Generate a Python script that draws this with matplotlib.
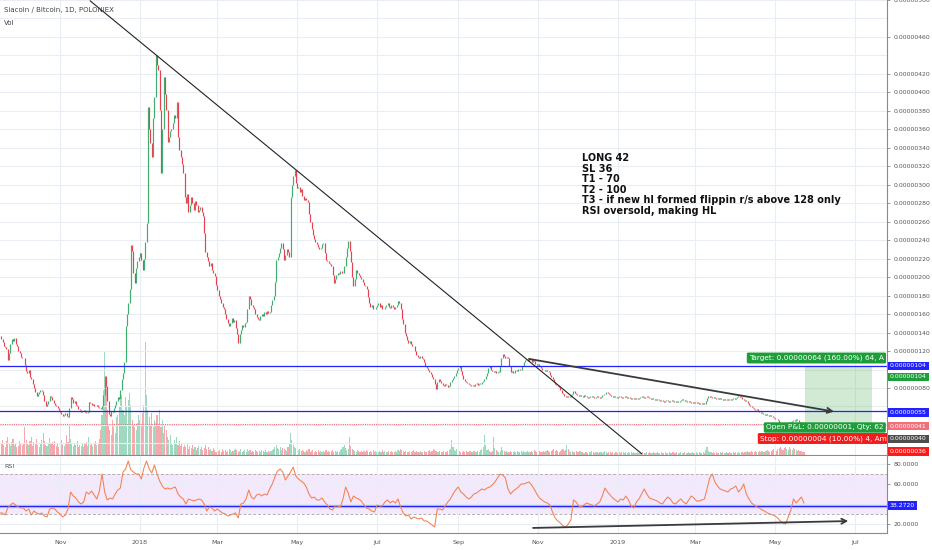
import numpy as np
import pandas as pd
import matplotlib
matplotlib.use('Agg')
import matplotlib.pyplot as plt
import matplotlib.dates as mdates
from matplotlib.ticker import FixedLocator, FuncFormatter

# daily closes in satoshi (1e-8 BTC), one per day from start_day
start_day = '2017-09-17'
first_open = 136
closes = [
    133, 130, 126, 124, 122, 110, 118, 128, 133, 131, 134, 128, 125, 120, 118, 114, 112, 113, 105, 98,
    96, 99, 92, 90, 84, 80, 76, 71, 73, 76, 78, 77, 72, 66, 60, 63, 66, 71, 70, 67,
    64, 62, 60, 58, 56, 54, 52, 50, 51, 53, 50, 49, 58, 70, 68, 64, 66, 62, 60, 57,
    56, 54, 55, 56, 54, 53, 54, 65, 64, 62, 63, 60, 61, 62, 59, 58, 57, 60, 72, 93,
    82, 66, 52, 50, 55, 54, 58, 62, 66, 70, 68, 78, 90, 96, 108, 147, 160, 172, 187, 235,
    228, 205, 194, 210, 218, 222, 226, 219, 208, 220, 238, 259, 384, 360, 345, 330, 372, 395, 440, 430,
    424, 381, 313, 360, 417, 398, 381, 346, 352, 358, 360, 367, 375, 372, 390, 352, 338, 330, 322, 313,
    287, 280, 290, 270, 278, 287, 280, 273, 282, 278, 270, 273, 276, 270, 266, 248, 227, 222, 218, 212,
    215, 208, 204, 201, 192, 186, 180, 176, 172, 168, 165, 160, 155, 150, 147, 150, 156, 152, 154, 145,
    138, 129, 138, 143, 148, 146, 150, 151, 165, 180, 176, 170, 168, 165, 160, 157, 155, 154, 158, 160,
    158, 162, 160, 163, 161, 162, 170, 175, 180, 195, 219, 222, 226, 232, 237, 230, 219, 224, 230, 227,
    222, 287, 300, 310, 316, 302, 296, 298, 292, 295, 288, 284, 286, 283, 281, 268, 260, 252, 246, 241,
    238, 236, 233, 230, 232, 236, 237, 226, 219, 218, 215, 214, 212, 202, 194, 198, 202, 205, 203, 207,
    204, 205, 212, 222, 232, 239, 228, 216, 200, 190, 198, 208, 204, 202, 200, 198, 195, 192, 190, 187,
    178, 172, 168, 170, 166, 165, 168, 170, 172, 168, 170, 166, 165, 168, 170, 172, 168, 167, 170, 168,
    165, 168, 170, 174, 172, 165, 155, 149, 140, 136, 132, 129, 131, 128, 126, 125, 120, 116, 114, 112,
    115, 113, 111, 108, 104, 102, 99, 97, 95, 92, 90, 84, 79, 86, 90, 88, 85, 83, 82, 84,
    83, 81, 82, 86, 89, 91, 93, 96, 100, 102, 104, 98, 94, 90, 88, 86, 85, 84, 83, 82,
    83, 82, 84, 85, 83, 84, 84, 86, 88, 90, 93, 96, 102, 104, 100, 98, 97, 98, 96, 97,
    97, 104, 112, 117, 115, 113, 114, 113, 104, 97, 98, 96, 99, 100, 98, 101, 99, 100, 104, 108,
    110, 111, 109, 113, 111, 108, 110, 109, 106, 105, 106, 104, 102, 100, 99, 98, 99, 98, 97, 94,
    92, 90, 86, 84, 83, 82, 81, 78, 75, 73, 71, 70, 71, 70, 70, 72, 74, 77, 75, 73,
    72, 71, 72, 71, 70, 72, 71, 70, 69, 70, 70, 71, 70, 69, 70, 71, 70, 69, 70, 72,
    73, 74, 76, 75, 73, 72, 71, 70, 71, 70, 69, 70, 71, 70, 69, 70, 71, 70, 69, 70,
    69, 68, 69, 68, 69, 68, 68, 69, 70, 71, 70, 69, 70, 71, 70, 69, 68, 69, 68, 67,
    68, 67, 67, 66, 67, 66, 65, 66, 67, 66, 65, 66, 67, 66, 65, 66, 65, 65, 66, 67,
    68, 67, 66, 66, 65, 66, 65, 64, 65, 64, 64, 65, 64, 63, 64, 63, 64, 63, 66, 69,
    71, 70, 70, 69, 70, 69, 68, 69, 68, 69, 68, 67, 68, 67, 68, 67, 68, 67, 68, 69,
    68, 69, 70, 71, 70, 70, 68, 67, 66, 66, 64, 62, 60, 59, 58, 57, 56, 57, 55, 54,
    53, 53, 52, 51, 52, 51, 50, 51, 50, 49, 48, 47, 46, 45, 43, 41, 39, 38, 37, 39,
    40, 42, 43, 42, 44, 45, 44, 46, 45, 43, 42, 43, 42, 41,
]

volume = [
    12, 15, 10, 8, 14, 18, 11, 9, 13, 16, 10, 12, 8, 9, 14, 11, 10, 12, 28, 15,
    12, 10, 14, 18, 9, 13, 11, 16, 10, 8, 12, 15, 22, 14, 10, 9, 12, 17, 11, 13,
    10, 14, 9, 12, 8, 11, 15, 10, 9, 12, 20, 13, 30, 16, 11, 9, 12, 10, 14, 8,
    10, 9, 12, 8, 11, 13, 9, 18, 10, 12, 9, 11, 14, 10, 12, 16, 25, 40, 65, 103,
    78, 45, 30, 25, 20, 35, 28, 22, 38, 40, 48, 55, 60, 45, 40, 58, 48, 55, 62, 50,
    35, 30, 28, 25, 32, 40, 35, 30, 42, 50, 113, 60, 45, 38, 30, 42, 28, 35, 32, 40,
    30, 45, 28, 35, 22, 30, 25, 18, 15, 20, 12, 10, 15, 12, 18, 10, 14, 9, 12, 8,
    10, 8, 12, 6, 9, 7, 10, 6, 8, 5, 7, 9, 6, 8, 5, 7, 10, 6, 8, 5,
    6, 4, 7, 5, 3, 6, 4, 5, 3, 6, 4, 5, 3, 4, 6, 5, 3, 4, 5, 6,
    5, 3, 4, 6, 3, 4, 5, 3, 6, 4, 5, 3, 4, 3, 5, 4, 3, 4, 3, 5,
    4, 3, 5, 3, 4, 3, 4, 5, 6, 8, 10, 7, 6, 8, 5, 7, 6, 5, 4, 8,
    12, 22, 15, 10, 8, 7, 6, 5, 6, 4, 5, 4, 3, 5, 4, 6, 3, 4, 5, 3,
    4, 3, 5, 3, 4, 3, 4, 3, 5, 3, 4, 3, 4, 5, 3, 4, 3, 4, 3, 5,
    6, 8, 10, 7, 5, 6, 18, 9, 6, 5, 4, 3, 5, 4, 3, 4, 3, 4, 3, 5,
    4, 3, 4, 3, 5, 3, 4, 3, 3, 4, 3, 5, 3, 4, 3, 3, 4, 3, 4, 3,
    3, 4, 3, 5, 4, 6, 5, 4, 3, 4, 3, 3, 4, 3, 4, 5, 3, 4, 3, 3,
    4, 3, 3, 4, 3, 3, 4, 5, 3, 4, 6, 5, 4, 3, 3, 4, 3, 3, 4, 3,
    3, 4, 5, 6, 15, 8, 5, 4, 6, 5, 4, 3, 3, 4, 3, 4, 3, 3, 4, 3,
    3, 4, 3, 3, 4, 3, 5, 6, 8, 20, 10, 5, 6, 4, 3, 4, 18, 7, 5, 4,
    3, 4, 8, 5, 4, 3, 4, 3, 3, 4, 3, 3, 4, 3, 4, 3, 3, 4, 3, 4,
    3, 3, 4, 3, 3, 4, 3, 5, 4, 3, 3, 4, 3, 3, 4, 3, 4, 5, 4, 3,
    4, 5, 6, 4, 5, 4, 3, 4, 5, 6, 4, 5, 10, 6, 4, 3, 4, 3, 3, 4,
    3, 3, 4, 3, 3, 2, 3, 3, 2, 3, 3, 4, 3, 2, 3, 3, 2, 3, 3, 2,
    3, 4, 3, 2, 3, 3, 2, 3, 2, 3, 3, 2, 3, 2, 3, 3, 2, 3, 2, 3,
    2, 3, 2, 3, 2, 2, 3, 2, 3, 2, 3, 2, 2, 3, 2, 3, 2, 2, 3, 2,
    2, 3, 2, 2, 3, 2, 2, 3, 2, 2, 3, 2, 2, 3, 2, 2, 3, 2, 2, 3,
    2, 2, 3, 2, 2, 3, 2, 2, 3, 2, 2, 3, 2, 3, 2, 2, 3, 2, 5, 8,
    4, 3, 3, 2, 3, 2, 3, 2, 2, 3, 2, 3, 2, 2, 3, 2, 3, 2, 2, 3,
    2, 3, 2, 3, 2, 3, 3, 2, 3, 3, 4, 3, 3, 4, 3, 3, 4, 3, 3, 4,
    3, 4, 3, 3, 4, 5, 4, 3, 4, 5, 6, 5, 4, 6, 7, 8, 6, 5, 7, 8,
    6, 5, 8, 6, 5, 7, 6, 5, 4, 5, 4, 4, 3, 3,
]

rsi_start = '2017-09-16'
rsi_values = [
    31, 31, 29, 36, 39, 41, 39, 37, 36, 36, 33, 35, 29, 33, 31, 30, 31, 28, 27, 35,
    36, 35, 32, 30, 27, 29, 35, 52, 48, 46, 42, 40, 42, 52, 50, 53, 49, 45, 53, 70,
    52, 44, 46, 45, 50, 54, 56, 72, 75, 83, 74, 72, 70, 70, 65, 76, 83, 75, 71, 79,
    70, 63, 58, 55, 56, 55, 56, 57, 50, 47, 45, 40, 45, 44, 43, 44, 45, 44, 40, 33,
    37, 36, 33, 35, 33, 31, 30, 28, 29, 30, 31, 26, 40, 41, 45, 54, 47, 45, 49, 50,
    48, 50, 49, 55, 60, 67, 73, 75, 72, 64, 68, 72, 77, 68, 65, 63, 61, 57, 50, 46,
    47, 44, 44, 46, 42, 39, 35, 34, 38, 38, 37, 45, 57, 51, 42, 48, 46, 45, 43, 39,
    36, 35, 33, 32, 39, 38, 38, 42, 44, 41, 43, 41, 45, 37, 31, 28, 29, 25, 27, 26,
    25, 26, 23, 23, 21, 19, 17, 35, 35, 34, 38, 42, 45, 50, 54, 57, 52, 50, 47, 45,
    47, 50, 51, 53, 55, 54, 56, 57, 59, 62, 66, 70, 69, 66, 55, 50, 53, 55, 57, 60,
    60, 61, 62, 59, 55, 50, 46, 44, 42, 41, 39, 32, 26, 23, 21, 18, 17, 20, 24, 44,
    42, 38, 37, 39, 41, 40, 39, 38, 40, 42, 48, 56, 52, 49, 46, 44, 42, 45, 44, 48,
    44, 38, 36, 42, 45, 50, 55, 50, 46, 45, 44, 43, 41, 40, 44, 47, 45, 41, 40, 43,
    45, 42, 40, 44, 48, 46, 43, 43, 44, 45, 55, 66, 70, 62, 58, 55, 54, 53, 52, 55,
    56, 58, 52, 55, 60, 50, 45, 41, 39, 37, 36, 34, 33, 31, 30, 29, 28, 26, 23, 21,
    20, 27, 34, 45, 41, 44, 47, 41,
]

month_ticks = ['2017-11-01', '2018-01-01', '2018-03-01', '2018-05-01', '2018-07-01', '2018-09-01',
               '2018-11-01', '2019-01-01', '2019-03-01', '2019-05-01', '2019-07-01']
month_labels = ['Nov', '2018', 'Mar', 'May', 'Jul', 'Sep', 'Nov', '2019', 'Mar', 'May', 'Jul']
price_ticks = [80, 120, 140, 160, 180, 200, 220, 240, 260, 280, 300, 320, 340, 360, 380, 400, 420, 460, 500]
rsi_ticks = [20, 60, 80]

# user drawings on the chart
trend_dates = ['2017-11-24', '2019-01-19']
trend_prices = [499, 9]
wedge_dates = ['2018-10-23', '2019-06-17']
wedge_prices = [112, 54]
hlines = [104, 55]
last_price = 41
entry, stop, target = 40, 36, 104
pos_dates = ['2019-05-24', '2019-07-14']
rsi_level = 38.272
rsi_line_dates = ['2018-10-26', '2019-06-28']
rsi_line_vals = [16, 23]

# position tool captions, as far as they show before the price scale
pos_target_text = 'Target: 0.00000064 (160.00%) 64, A'
pos_pnl_text = 'Open P&L: 0.00000001, Qty: 62'
pos_stop_text = 'Stop: 0.00000004 (10.00%) 4, Am'

note = ['LONG 42', 'SL 36', 'T1 - 70', 'T2 - 100',
        'T3 - if new hl formed flippin r/s above 128 only', 'RSI oversold, making HL']

GREEN = '#3fae6f'
RED = '#e8404f'
BLUE = '#2222ff'
GRID = '#e8eef3'
AXC = '#8a8a8a'
POS_GREEN = '#1e9e3a'

plt.rcParams['font.family'] = ['DejaVu Sans']

W, H = 932, 550
PLOT_R = 887


def rect(top, bottom):
    return [0, 1 - bottom / H, PLOT_R / W, (bottom - top) / H]


def at_px(px_x, px_y):
    # position inside the price pane given in picture pixels
    return px_x / PLOT_R, 1 - px_y / 455


def to_num(days):
    return mdates.date2num(pd.to_datetime(days).to_pydatetime())


n = min(len(closes), len(volume))
c = np.array(closes[:n], dtype=float)
o = np.r_[first_open, c[:-1]]
vol = np.array(volume[:n], dtype=float)
x = mdates.date2num(pd.date_range(start_day, periods=n, freq='D').to_pydatetime())
up = c >= o
rsi_x = mdates.date2num(pd.date_range(rsi_start, periods=len(rsi_values), freq='2D').to_pydatetime())

fig = plt.figure(figsize=(W / 100, H / 100), dpi=100)
ax_vol = fig.add_axes(rect(0, 455))
ax = fig.add_axes(rect(0, 455), sharex=ax_vol)
ax_rsi = fig.add_axes(rect(456, 533), sharex=ax_vol)
ax.patch.set_visible(False)

x0 = mdates.date2num(pd.Timestamp('2017-09-16 02:00'))
x1 = mdates.date2num(pd.Timestamp('2019-07-25 10:00'))
ax_vol.set_xlim(x0, x1)

# volume
ax_vol.bar(x, vol, width=0.85, color=np.where(up, '#9fd9c0', '#f5a9ae'), linewidth=0)
ax_vol.set_ylim(0, 455)
ax_vol.axis('off')

# candles (1px bodies at this zoom)
body_lo = np.minimum(o, c)
body_hi = np.maximum(np.maximum(o, c), body_lo + 1.0)
ax.vlines(x, body_lo, body_hi, colors=np.where(up, GREEN, RED), lw=0.85, zorder=3)
ax.set_ylim(7.5, 500)

mx = to_num(month_ticks)
for a in (ax, ax_rsi):
    a.xaxis.set_major_locator(FixedLocator(mx))
    a.grid(axis='x', color=GRID, lw=0.8, zorder=0)
    for s in ('top', 'left'):
        a.spines[s].set_visible(False)
    for s in ('right', 'bottom'):
        a.spines[s].set_color(AXC)
        a.spines[s].set_linewidth(0.8)
    a.yaxis.tick_right()
    a.tick_params(axis='y', which='major', length=2.5, width=0.6, color=AXC,
                  labelsize=4.4, labelcolor='#555555', pad=2)
    a.tick_params(axis='y', which='minor', length=0)

ax.tick_params(axis='x', length=0, labelbottom=False)
ax_rsi.tick_params(axis='x', length=0, labelsize=4.6, labelcolor='#555555', pad=5)
ax_rsi.set_xticklabels(month_labels)

ax.yaxis.set_major_locator(FixedLocator(price_ticks))
ax.yaxis.set_minor_locator(FixedLocator(range(20, 500, 20)))
ax.yaxis.set_major_formatter(FuncFormatter(lambda v, p: f'{v / 1e8:.8f}'))
ax.grid(axis='y', which='both', color=GRID, lw=0.8, zorder=0)

# trend lines
ax.plot(to_num(trend_dates), trend_prices, color='#222222', lw=0.8, zorder=5)
wd = to_num(wedge_dates)
ax.annotate('', xy=(wd[1], wedge_prices[1]), xytext=(wd[0], wedge_prices[0]),
            arrowprops=dict(arrowstyle='->', color='#3a3a3a', lw=1.3, mutation_scale=9), zorder=5)
for lv in hlines:
    ax.axhline(lv, color=BLUE, lw=0.9, zorder=4)
ax.axhline(last_price, color='#f26d7d', lw=0.8, ls=(0, (1, 1)), zorder=4)

# long position tool
pd0, pd1 = to_num(pos_dates)
ax.fill_between([pd0, pd1], entry, target, color='#4caf50', alpha=0.25, lw=0, zorder=2)
ax.fill_between([pd0, pd1], stop, entry, color='#f44336', alpha=0.25, lw=0, zorder=2)

box = dict(boxstyle='round,pad=0.3,rounding_size=0.2', ec='none')
for (px_x, px_y), text, fc in [((749, 358), pos_target_text, POS_GREEN),
                               ((766, 427.5), pos_pnl_text, POS_GREEN),
                               ((760, 438.5), pos_stop_text, '#f21c1c')]:
    ax.text(*at_px(px_x, px_y), text, transform=ax.transAxes, fontsize=5.3, color='white',
            ha='left', va='center', bbox=dict(box, fc=fc), clip_on=True, zorder=8)

# note text
for i, line in enumerate(note):
    ax.text(*at_px(582, 158.3 + 10.5 * i), line, transform=ax.transAxes, fontsize=7,
            fontweight='bold', color='#111111', ha='left', va='center', zorder=7)


def side_label(a, value, text, color, dy=0):
    a.annotate(text, xy=(1, value), xycoords=('axes fraction', 'data'),
               xytext=(2.2, dy), textcoords='offset points', ha='left', va='center',
               fontsize=4.4, color='white', annotation_clip=False, zorder=9,
               bbox=dict(boxstyle='square,pad=0.3', fc=color, ec='none'))


side_label(ax, 104, '0.00000104', BLUE, 0)
side_label(ax, target, f'{target / 1e8:.8f}', POS_GREEN, -8)
side_label(ax, 55, '0.00000055', BLUE, -1)
side_label(ax, last_price, f'{last_price / 1e8:.8f}', '#ef6f7b', -1.5)
side_label(ax, entry, f'{entry / 1e8:.8f}', '#4d4d4d', -10)
side_label(ax, stop, f'{stop / 1e8:.8f}', '#ff1a1a', -16.3)

# RSI pane
ax_rsi.set_ylim(11, 88)
ax_rsi.axhspan(30, 70, color='#f3e8fc', lw=0, zorder=0)
for lv in (30, 70):
    ax_rsi.axhline(lv, color='#b0b0b0', lw=0.7, ls=(0, (3, 2)), zorder=1)
ax_rsi.yaxis.set_major_locator(FixedLocator(rsi_ticks))
ax_rsi.yaxis.set_minor_locator(FixedLocator([20, 40, 60, 80]))
ax_rsi.yaxis.set_major_formatter(FuncFormatter(lambda v, p: f'{v:.4f}'))
ax_rsi.grid(axis='y', which='both', color=GRID, lw=0.8, zorder=0)
ax_rsi.plot(rsi_x, rsi_values, color='#f4804f', lw=0.75, zorder=3)
ax_rsi.axhline(rsi_level, color='#9a9aff', lw=2.4, alpha=0.6, zorder=2)
ax_rsi.axhline(rsi_level, color=BLUE, lw=0.8, zorder=2)
rd = to_num(rsi_line_dates)
ax_rsi.annotate('', xy=(rd[1], rsi_line_vals[1]), xytext=(rd[0], rsi_line_vals[0]),
                arrowprops=dict(arrowstyle='->', color='#3a3a3a', lw=1.3, mutation_scale=9), zorder=5)
side_label(ax_rsi, rsi_level, f'{rsi_level:.4f}', BLUE, 0)
ax_rsi.text(4 / PLOT_R, 1 - 10 / 77, 'RSI', transform=ax_rsi.transAxes, fontsize=4.6,
            color='#555555', ha='left', va='center')

# header
fig.text(4 / W, 1 - 10 / H, 'Siacoin / Bitcoin, 1D, POLONIEX', fontsize=5, color='#444444', va='center')
fig.text(4 / W, 1 - 23 / H, 'Vol', fontsize=5, color='#444444', va='center')

fig.savefig('out.png', dpi=100, facecolor='white')
